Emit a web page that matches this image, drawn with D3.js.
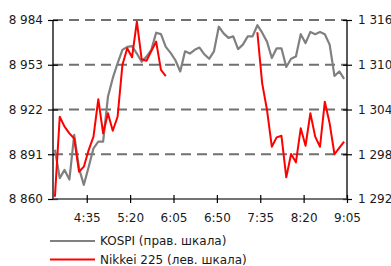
<!DOCTYPE html>
<html>
<head>
<meta charset="utf-8">
<script src="https://cdn.jsdelivr.net/npm/d3@7"></script>
<style>
html,body{margin:0;padding:0;background:#fff;overflow:hidden;}
svg{display:block;font-family:"DejaVu Sans",Verdana,sans-serif;}
</style>
</head>
<body>
<svg id="chart" width="391" height="266"></svg>
<script>
// ---- data ----
const times = ["4:02","4:07","4:12","4:17","4:22","4:27","4:32","4:37","4:42","4:47",
"4:52","4:57","5:02","5:07","5:12","5:17","5:22","5:27","5:32","5:37",
"5:42","5:47","5:52","5:57","6:02","6:07","6:12","6:17","6:22","6:27",
"6:32","6:37","6:42","6:47","6:52","6:57","7:02","7:07","7:12","7:17",
"7:22","7:27","7:32","7:37","7:42","7:47","7:52","7:57","8:02","8:07",
"8:12","8:17","8:22","8:27","8:32","8:37","8:42","8:47","8:52","8:57","9:02"];

const kospi = [1298.6,1294.8,1295.9,1294.6,1300.6,1296.1,1293.9,1296.3,1298.8,1299.7,
1299.7,1305.7,1308.2,1310.2,1312.0,1312.4,1312.5,1311.5,1310.4,1311.1,
1312.0,1314.3,1314.1,1312.4,1311.6,1310.6,1309.1,1311.8,1311.5,1312.0,
1312.3,1311.4,1310.8,1311.8,1315.1,1314.2,1313.6,1313.8,1312.1,1312.7,
1313.8,1313.8,1315.3,1314.3,1313.1,1310.9,1312.2,1312.2,1309.7,1310.8,
1311.1,1314.1,1312.9,1314.4,1314.1,1314.4,1314.1,1312.7,1308.5,1309.1,1308.1];

const nikkei = [8861.6,8917.0,8910.1,8905.5,8901.9,8878.9,8882.4,8893.9,8903.2,8929.1,
8905.5,8919.4,8907.3,8917.0,8952.8,8964.4,8958.2,8982.8,8956.8,8955.8,
8962.5,8969.0,8949.4,8945.2,
null,null,null,null,null,null,null,null,null,null,null,null,null,null,null,null,null,null,
8975.5,8940.1,8921.7,8896.2,8902.7,8903.8,8875.0,8891.2,8885.4,8909.0,
8896.9,8919.4,8903.2,8896.2,8927.4,8912.4,8891.0,8895.4,8899.7];

const xDomainLabels = ["4:00","9:05"];
const xTickLabels = ["4:35","5:20","6:05","6:50","7:35","8:20","9:05"];
const leftTicks = [8860, 8891, 8922, 8953, 8984];
const rightTicks = [1292, 1298, 1304, 1310, 1316];
const seriesNames = ["KOSPI (прав. шкала)", "Nikkei 225 (лев. шкала)"];
const seriesColors = ["#808080", "#ff0000"];

// ---- helpers ----
const toMin = s => { const [h,m] = s.split(":").map(Number); return h*60+m; };
const loc = d3.formatLocale({decimal:",", thousands:" ", grouping:[3], currency:["",""]});
const fmt = loc.format(",d");

const L = 53, R = 347, T = 20, B = 199;
const svg = d3.select("#chart");
svg.append("rect").attr("width",391).attr("height",266).attr("fill","#fff");

const x = d3.scaleLinear().domain(xDomainLabels.map(toMin)).range([L, R]);
const yL = d3.scaleLinear().domain([leftTicks[0], leftTicks[leftTicks.length-1]]).range([B, T]);
const yR = d3.scaleLinear().domain([rightTicks[0], rightTicks[rightTicks.length-1]]).range([B, T]);

// gridlines
svg.append("g").selectAll("line").data(leftTicks.slice(1)).join("line")
  .attr("x1", L).attr("x2", R)
  .attr("y1", d => yL(d)).attr("y2", d => yL(d))
  .attr("stroke", "#707070").attr("stroke-width", 1.8)
  .attr("stroke-dasharray", "10,6");

// axes
const axL = svg.append("g").attr("transform", `translate(${L},0)`)
  .call(d3.axisLeft(yL).tickValues(leftTicks).tickFormat(fmt).tickSize(5).tickPadding(5));
const axR = svg.append("g").attr("transform", `translate(${R},0)`)
  .call(d3.axisRight(yR).tickValues(rightTicks).tickFormat(fmt).tickSize(5).tickPadding(6));
const axB = svg.append("g").attr("transform", `translate(0,${B})`)
  .call(d3.axisBottom(x).tickValues(xTickLabels.map(toMin)).tickFormat((d,i) => xTickLabels[i]).tickSize(4).tickPadding(10));

[axL, axR, axB].forEach(g => {
  g.selectAll("text").attr("font-size", 12).attr("fill", "#1a1a1a").attr("font-family", "DejaVu Sans, Verdana, sans-serif");
  g.select(".domain").attr("stroke", "#000").attr("stroke-width", 1.3);
  g.selectAll(".tick line").attr("stroke", "#000").attr("stroke-width", 1.2);
});
// ticks cross the axis
axL.selectAll(".tick line").attr("x1", 5);
axR.selectAll(".tick line").attr("x1", -4);
axB.selectAll(".tick line").attr("y1", -4);
axB.select(".domain").attr("stroke", "#444");
axL.select(".domain").attr("d", `M0,${T}V${B}`);
axR.select(".domain").attr("d", `M0,${T}V${B}`);
axB.select(".domain").attr("d", `M${L},0H${R}`);

// lines
const kData = times.map((t,i) => ({t: toMin(t), v: kospi[i]}));
const nData = times.map((t,i) => ({t: toMin(t), v: nikkei[i]}));

svg.append("path").datum(kData)
  .attr("fill", "none").attr("stroke", seriesColors[0]).attr("stroke-width", 2.2)
  .attr("stroke-linejoin", "round")
  .attr("d", d3.line().x(d => x(d.t)).y(d => yR(d.v)));

svg.append("path").datum(nData)
  .attr("fill", "none").attr("stroke", seriesColors[1]).attr("stroke-width", 2)
  .attr("stroke-linejoin", "round")
  .attr("d", d3.line().defined(d => d.v != null).x(d => x(d.t)).y(d => yL(d.v)));

// legend
const leg = svg.append("g");
seriesNames.forEach((name, i) => {
  const yy = 241 + i*18.5;
  leg.append("line").attr("x1", 50).attr("x2", 95).attr("y1", yy).attr("y2", yy)
    .attr("stroke", seriesColors[i]).attr("stroke-width", 2);
  leg.append("text").attr("x", 100).attr("y", yy + 4.3)
    .attr("font-size", 12).attr("fill", "#1a1a1a").text(name);
});
</script>
</body>
</html>
